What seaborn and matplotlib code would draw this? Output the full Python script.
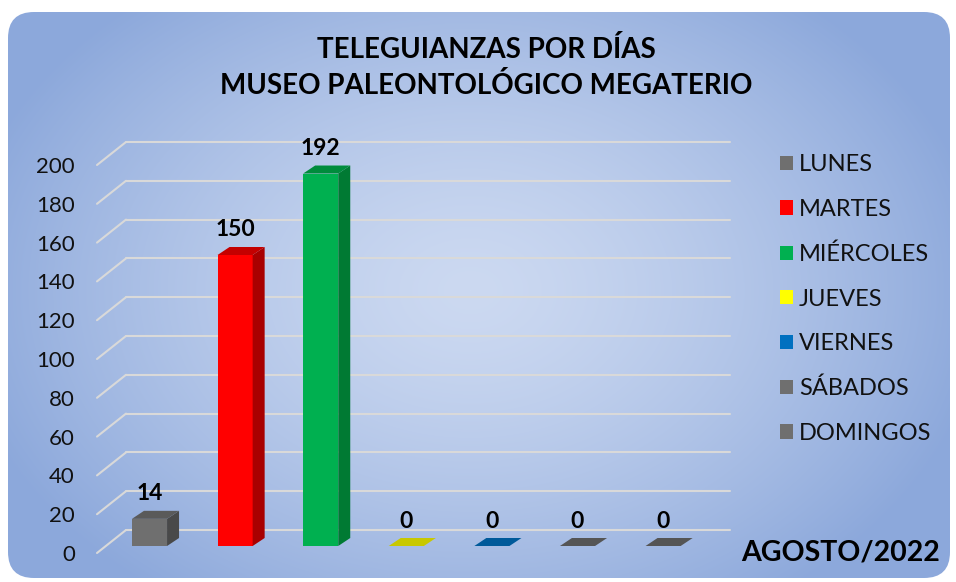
import numpy as np
import matplotlib.pyplot as plt
import seaborn as sns
from matplotlib.patches import FancyBboxPatch, Polygon, Patch

# Datos
dias = ['LUNES', 'MARTES', 'MIÉRCOLES', 'JUEVES', 'VIERNES', 'SÁBADOS', 'DOMINGOS']
visitas = [14, 150, 192, 0, 0, 0, 0]
colores = ['#6f6f6f', '#ff0000', '#00b050', '#ffff00', '#0070c0', '#6f6f6f', '#6f6f6f']
lados = ['#494949', '#a80000', '#007a33', '#a0a000', '#004a80', '#494949', '#494949']
techos = ['#5a5a5a', '#c40000', '#008c3c', '#c8c800', '#005a9a', '#555555', '#555555']
ticks = list(range(0, 201, 20))

sns.set_theme(style='white')
plt.rcParams['font.family'] = ['Lato', 'DejaVu Sans']

W, H = 956, 582
fig = plt.figure(figsize=(W / 100, H / 100), dpi=100)
fig.patch.set_facecolor('white')

# fondo con degradado radial y esquinas redondeadas
bg = fig.add_axes([0, 0, 1, 1])
bg.set_xlim(0, W)
bg.set_ylim(H, 0)
bg.axis('off')
yy, xx = np.mgrid[0:H, 0:W]
r = np.sqrt(((xx - 470) / 520) ** 2 + ((yy - 290) / 380) ** 2)
r = np.clip(r, 0, 1) ** 1.4
c0 = np.array([204, 217, 241]) / 255
c1 = np.array([140, 168, 219]) / 255
img = c0 + (c1 - c0) * r[..., None]
im = bg.imshow(img, extent=(0, W, H, 0), zorder=0)
box = FancyBboxPatch((8, 12), 942, 566, boxstyle='round,pad=0,rounding_size=26',
                     transform=bg.transData, facecolor='none', edgecolor='none')
bg.add_patch(box)
im.set_clip_path(box)

# ejes principales
step = 85.6          # px por categoria
ppu = 1.94           # px por unidad
y0px = 546           # base de las barras (px desde arriba)
ymin, ymax = -8, 215
left = 149.5 - 0.5 * step
bottom = H - (y0px - ymin * ppu)
ax = fig.add_axes([left / W, bottom / H, 7 * step / W, (ymax - ymin) * ppu / H])
ax.patch.set_alpha(0)

sns.barplot(x=dias, y=visitas, hue=dias, palette=colores, legend=False,
            width=0.41, saturation=1, linewidth=0, edgecolor='none', ax=ax, zorder=3)
ax.set_xlim(-0.5, 6.5)
ax.set_ylim(ymin, ymax)

# efecto 3D
dx = 12 / step
dy = 8 / ppu
hw = 0.41 / 2
for i, v in enumerate(visitas):
    side = Polygon([(i + hw, 0), (i + hw + dx, dy), (i + hw + dx, v + dy), (i + hw, v)],
                   closed=True, facecolor=lados[i], edgecolor='none', zorder=3)
    top = Polygon([(i - hw, v), (i - hw + dx, v + dy), (i + hw + dx, v + dy), (i + hw, v)],
                  closed=True, facecolor=techos[i], edgecolor='none', zorder=4)
    ax.add_patch(side)
    ax.add_patch(top)
    ax.annotate(str(v), (i, v), xytext=(0, 18), textcoords='offset points',
                ha='center', va='center', fontsize=16.5, fontweight='bold',
                color='black', zorder=5)

# rejilla en perspectiva
back = 16 / ppu
front = -7 / ppu
xa = (97 - left) / step - 0.5
xb = (126 - left) / step - 0.5
xc = (730 - left) / step - 0.5
for t in ticks:
    ax.plot([xa, xb], [t + front, t + back], color='#d9d9d9', lw=1.5, zorder=1, clip_on=False)
    ax.plot([xb, xc], [t + back, t + back], color='#d9d9d9', lw=1.5, zorder=1, clip_on=False)

ax.set_yticks([t + front for t in ticks])
ax.set_yticklabels([str(t) for t in ticks], fontsize=16, color='#111111')
ax.tick_params(axis='y', length=0, pad=(left - 75) * 0.72)
ax.set_xticks([])
ax.set_xlabel('')
ax.set_ylabel('')
for s in ax.spines.values():
    s.set_visible(False)

# leyenda
handles = [Patch(facecolor=c, edgecolor='none', label=d) for d, c in zip(dias, colores)]
fig.legend(handles=handles, loc='upper left', bbox_to_anchor=(759 / W, 1 - 133 / H),
           frameon=False, fontsize=17, handlelength=0.55, handleheight=0.55,
           handletextpad=0.25, labelspacing=1.0, labelcolor='#111111')

# titulos
fig.text(486 / W, 1 - 50 / H, 'TELEGUIANZAS POR DÍAS', ha='center', va='center',
         fontsize=20, fontweight='bold', color='black')
fig.text(486 / W, 1 - 85 / H, 'MUSEO PALEONTOLÓGICO MEGATERIO', ha='center', va='center',
         fontsize=20, fontweight='bold', color='black')
fig.text(940 / W, 1 - 552 / H, 'AGOSTO/2022', ha='right', va='center',
         fontsize=20.5, fontweight='bold', color='black')

fig.savefig('out.png', dpi=100)
